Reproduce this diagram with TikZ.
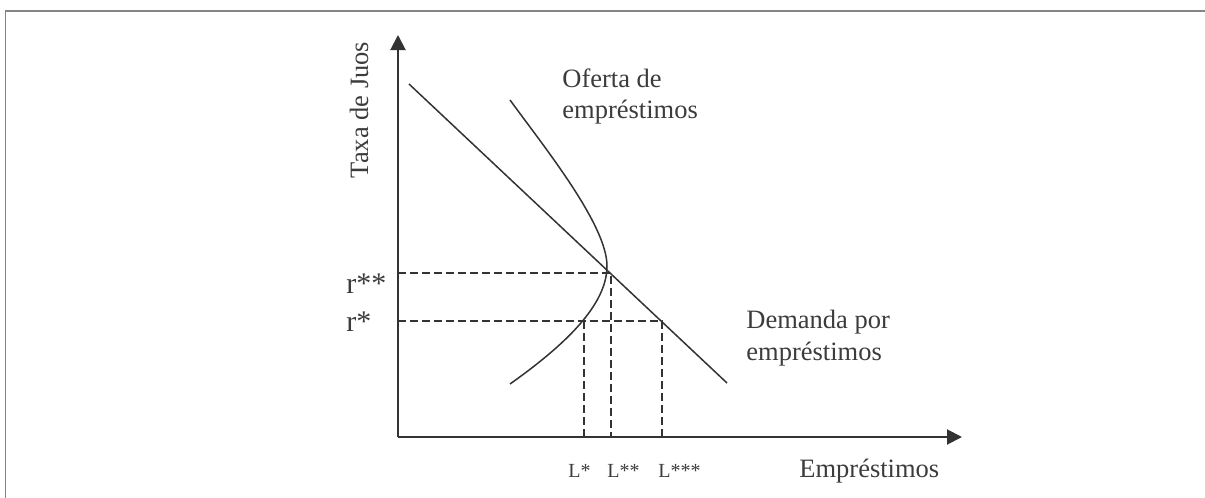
\documentclass[tikz,border=0pt]{standalone}
\usepackage{fontspec}
\setmainfont{Liberation Serif}
\usetikzlibrary{arrows.meta}
\definecolor{inkgray}{HTML}{333333}
\definecolor{txtgray}{HTML}{3C3C3C}
\definecolor{framegray}{HTML}{858585}
\tikzset{
  axis/.style={line width=1pt,draw=inkgray,-{Triangle[length=7.5pt,width=7.5pt]}},
  curve/.style={line width=0.75pt,draw=inkgray},
  guide/.style={line width=0.75pt,draw=inkgray,dash pattern=on 4pt off 2pt},
  lbl/.style={inner sep=0pt,text=txtgray,font=\fontsize{13.25}{16}\selectfont},
  rlbl/.style={inner sep=0pt,text=txtgray,font=\fontsize{15}{18}\selectfont},
  Llbl/.style={inner sep=0pt,text=txtgray,font=\fontsize{10}{12}\selectfont}
}
\begin{document}
\begin{tikzpicture}[x=0.5pt,y=-0.5pt]
\useasboundingbox (0,0) rectangle (1205,498);
% frame
\draw[framegray,line width=0.75pt](5.5,498)--(5.5,11)--(1205,11);

\coordinate (O) at (398,437);
\coordinate (ytop) at (398,35);
\coordinate (xend) at (962,437);
\coordinate (dA) at (409,84);
\coordinate (dB) at (727,383);
\coordinate (sA) at (510,100);
\coordinate (sV) at (607,266);
\coordinate (sB) at (510,384);
\coordinate (Ess) at (611,273);
\coordinate (rss) at (398,273);
\coordinate (Lss) at (611,437);
\coordinate (Es) at (584,321);
\coordinate (Ed) at (662,321);
\coordinate (rs) at (398,321);
\coordinate (Ls) at (584,437);
\coordinate (Lsss) at (662,437);

% axes
\draw[axis](O)--(ytop);
\draw[axis](O)--(xend);

% demand and supply
\draw[curve](dA)--(dB);
\draw[curve](sA)..controls(545,148)and(607,225)..(sV)..controls(607,305)and(565,345)..(sB);

% guides
\draw[guide](rss)--(Ess)--(Lss);
\draw[guide](rs)--(Ed)--(Lsss);
\draw[guide](Es)--(Ls);

% labels
\node[lbl,rotate=90,anchor=base](taxa) at (368,110){Taxa de Juos};
\node[lbl,anchor=base west](of1) at (562,87){Oferta de};
\node[lbl,anchor=base west](of2) at (562,118){empréstimos};
\node[lbl,anchor=base west](dem1) at (746,328){Demanda por};
\node[lbl,anchor=base west](dem2) at (746,360){empréstimos};
\node[lbl,anchor=base west](emp) at (799,477){Empréstimos};
\node[rlbl,anchor=base west](r2) at (346,293){r**};
\node[rlbl,anchor=base west](r1) at (346,331){r*};
\node[Llbl,anchor=base west](L1) at (568,477){L*};
\node[Llbl,anchor=base west](L2) at (607,477){L**};
\node[Llbl,anchor=base west](L3) at (658,477){L***};
\end{tikzpicture}
\end{document}
